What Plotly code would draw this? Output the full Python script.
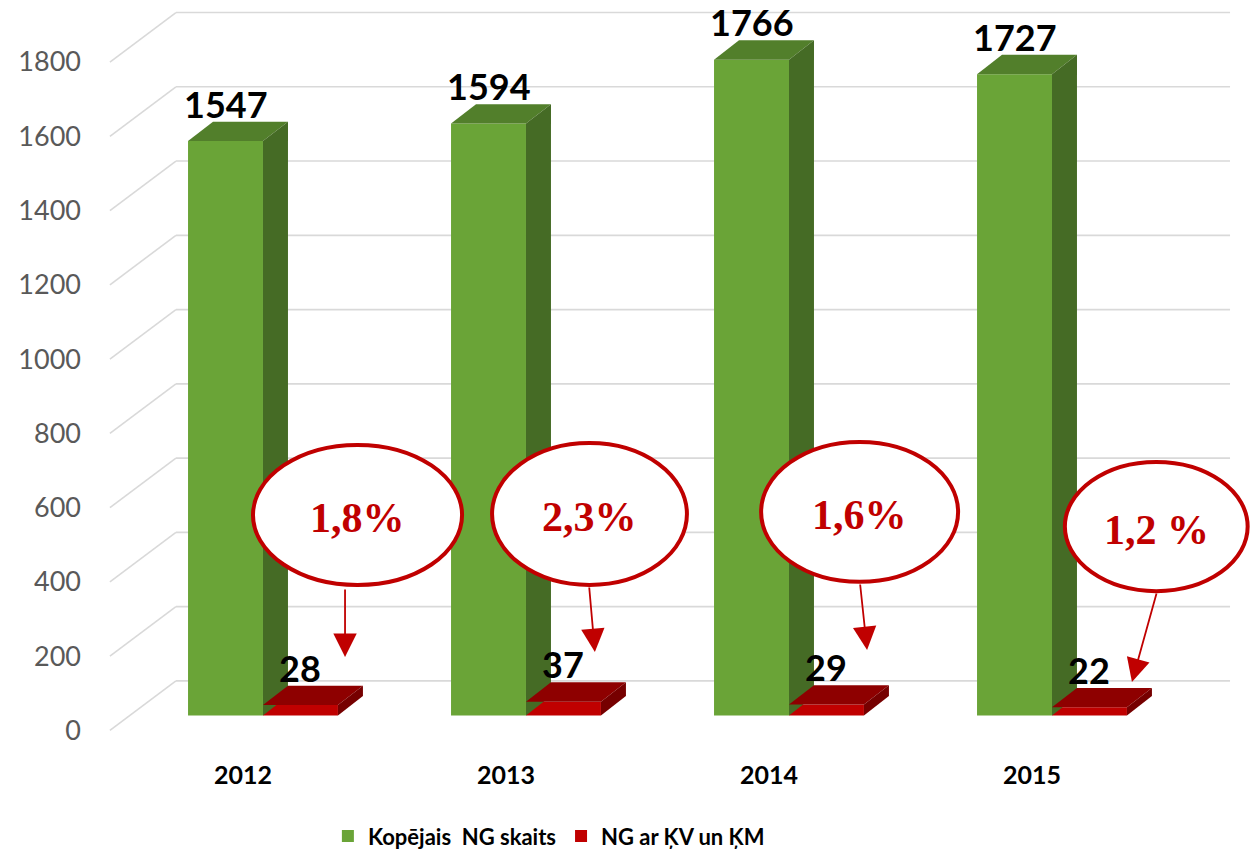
import plotly.graph_objects as go

# ---------------- data ----------------
years = ["2012", "2013", "2014", "2015"]
total_ng = [1547, 1594, 1766, 1727]
ng_kv_km = [28, 37, 29, 22]
share_labels = ["1,8%", "2,3%", "1,6%", "1,2 %"]
series_names = ["Kopējais  NG skaits", "NG ar ĶV un ĶM"]
y_ticks = list(range(0, 1801, 200))

# ---------------- pseudo-3D geometry (axis units) ----------------
BAR_W = 0.285
GAP_X, GAP_Y = 0.076, 40.4     # floor front edge -> bar front face
DEP_X, DEP_Y = 0.095, 52.0     # bar depth
WALL_X, WALL_Y = 0.251, 133.3  # floor front edge -> back wall
FLOOR_LEFT = -0.506
WALL_RIGHT = 3.753

FONT = "Lato, 'Open Sans', sans-serif"
SERIF = "'Liberation Serif', 'Times New Roman', serif"

green = dict(front="#6aa437", top="#527f2b", side="#456b25")
red = dict(front="#c00000", top="#8e0000", side="#760000")

fig = go.Figure()

xs = list(range(len(years)))


def add_series(values, side, colors, name):
    centers = [i + side * BAR_W / 2 + GAP_X for i in xs]
    shown = name.replace("  ", " \u00a0")
    fig.add_trace(go.Bar(
        x=centers, y=values, base=[GAP_Y] * len(values), width=BAR_W,
        marker=dict(color=colors["front"], line=dict(width=0)),
        name="<b>%s</b>" % shown, showlegend=True, hoverinfo="skip"))
    for c, v in zip(centers, values):
        xl, xr = c - BAR_W / 2, c + BAR_W / 2
        yb, yt = GAP_Y, GAP_Y + v
        # top face
        fig.add_trace(go.Scatter(
            x=[xl, xr, xr + DEP_X, xl + DEP_X, xl],
            y=[yt, yt, yt + DEP_Y, yt + DEP_Y, yt],
            fill="toself", fillcolor=colors["top"], mode="lines",
            line=dict(width=0, color=colors["top"]),
            showlegend=False, hoverinfo="skip"))
        # side face
        fig.add_trace(go.Scatter(
            x=[xr, xr + DEP_X, xr + DEP_X, xr, xr],
            y=[yb, yb + DEP_Y, yt + DEP_Y, yt, yb],
            fill="toself", fillcolor=colors["side"], mode="lines",
            line=dict(width=0, color=colors["side"]),
            showlegend=False, hoverinfo="skip"))
        # value label
        fig.add_annotation(
            x=c, y=yt + DEP_Y, text="<b>%d</b>" % v, showarrow=False,
            yanchor="bottom", yshift=-6,
            font=dict(family=FONT, size=36, color="#000000"))
    return centers


add_series(total_ng, -1, green, series_names[0])
add_series(ng_kv_km, 1, red, series_names[1])

# ---------------- gridlines (floor edge -> back wall) ----------------
shapes = []
for t in y_ticks:
    shapes.append(dict(type="line", xref="x", yref="y", layer="below",
                       x0=FLOOR_LEFT, y0=t, x1=FLOOR_LEFT + WALL_X, y1=t + WALL_Y,
                       line=dict(color="#d9d9d9", width=1.6)))
    shapes.append(dict(type="line", xref="x", yref="y", layer="below",
                       x0=FLOOR_LEFT + WALL_X, y0=t + WALL_Y, x1=WALL_RIGHT, y1=t + WALL_Y,
                       line=dict(color="#d9d9d9", width=1.6)))

# ---------------- callouts ----------------
ellipse_x = [(0.038, 0.833), (0.947, 1.688), (1.970, 2.719), (3.125, 3.820)]
ellipse_y = [(391.6, 768.9), (391.6, 774.0), (400.0, 777.0), (375.0, 723.0)]
arrow_tail = [(0.388, 383.5), (1.316, 388.9), (2.346, 397.0), (3.475, 372.7)]
arrow_tip = [(0.388, 197.7), (1.338, 211.1), (2.373, 216.5), (3.380, 130.4)]

for (x0, x1), (y0, y1), lbl, tail, tip in zip(ellipse_x, ellipse_y, share_labels,
                                                arrow_tail, arrow_tip):
    shapes.append(dict(type="circle", xref="x", yref="y", layer="above",
                       x0=x0, x1=x1, y0=y0, y1=y1, fillcolor="#ffffff",
                       line=dict(color="#c00000", width=4)))
    fig.add_annotation(x=(x0 + x1) / 2, y=(y0 + y1) / 2, text="<b>%s</b>" % lbl,
                       showarrow=False, yshift=-3,
                       font=dict(family=SERIF, size=42, color="#c00000"))
    fig.add_annotation(x=tip[0], y=tip[1], ax=tail[0], ay=tail[1],
                       axref="x", ayref="y", xref="x", yref="y", text="",
                       showarrow=True, arrowhead=2, arrowsize=2.6,
                       arrowwidth=1.8, arrowcolor="#c00000")

fig.update_layout(
    width=1251, height=858,
    margin=dict(l=100, r=0, t=0, b=106, autoexpand=False),
    plot_bgcolor="#ffffff", paper_bgcolor="#ffffff",
    barmode="overlay",
    shapes=shapes,
    showlegend=True,
    legend=dict(orientation="h", x=0.39, xanchor="center", y=-0.112, yanchor="middle",
                font=dict(family=FONT, size=22, color="#000000"),
                itemsizing="constant", traceorder="normal"),
    xaxis=dict(range=[-0.5437, 3.8327], tickmode="array", tickvals=xs,
               ticktext=["<b>%s</b>" % y for y in years], showgrid=False,
               zeroline=False, showline=False, ticks="", automargin=False,
               tickfont=dict(family=FONT, size=25, color="#000000"),
               ticklabelstandoff=6, fixedrange=True),
    yaxis=dict(range=[-58.2, 1967.1], tickmode="array", tickvals=y_ticks,
               showgrid=False, zeroline=False, showline=False, ticks="",
               automargin=False,
               tickfont=dict(family=FONT, size=27, color="#595959"),
               ticklabelstandoff=18, fixedrange=True),
)

fig.write_html("out.html",
               config={"displayModeBar": False},
               post_script="document.body.style.margin='0px';"
                           "document.body.style.overflow='hidden';")
